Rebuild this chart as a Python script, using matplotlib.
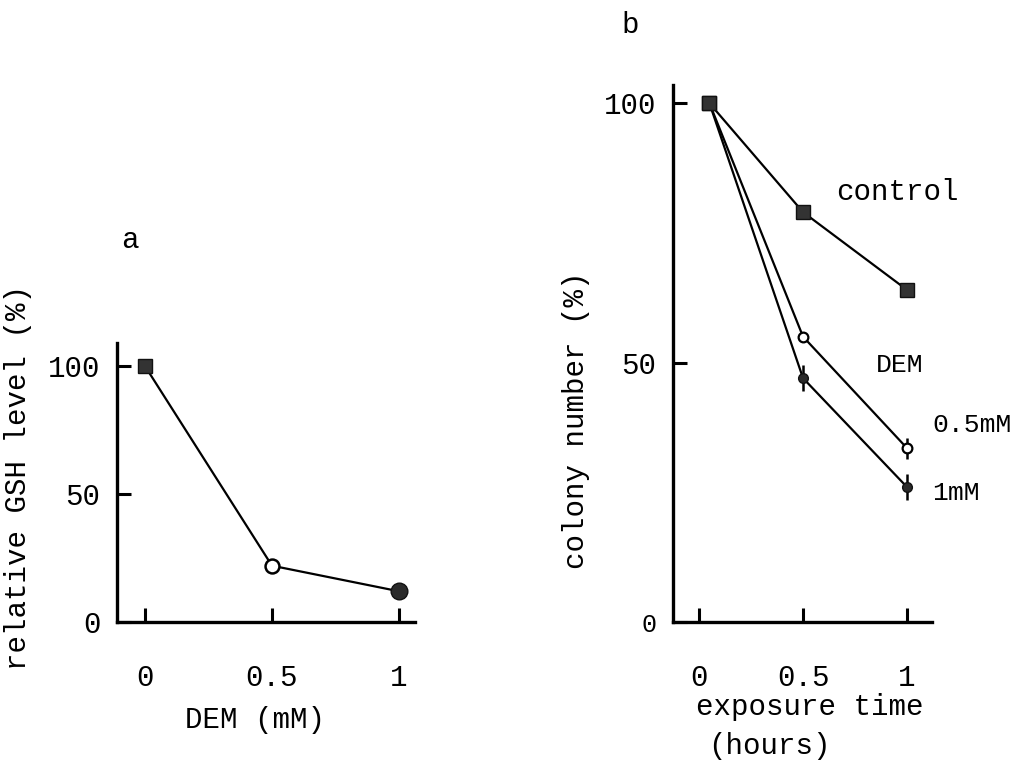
import matplotlib
matplotlib.use("Agg")
import matplotlib.pyplot as plt

# Panel a: GSH level after DEM treatment
dem_conc = [0.0, 0.5, 1.0]
gsh_level = [100, 22, 12]
a_xticks = [0, 0.5, 1]
a_xticklabels = ["0", "0.5", "1"]
a_yticks = [0, 50, 100]
a_yticklabels = ["0", "50", "100"]

# Panel b: colony survival over exposure time
exposure_h = [0.05, 0.5, 1.0]
control = [100, 79, 64]
dem_05 = [100, 55, 33.5]
dem_05_err = [0, 0, 2]
dem_1 = [100, 47, 26]
dem_1_err = [0, 2.5, 2.5]
b_xticks = [0, 0.5, 1]
b_xticklabels = ["0", "0.5", "1"]
b_yticks = [0, 50, 100]
b_yticklabels = ["0", "50", "100"]

FONT = "Liberation Mono"
plt.rcParams["font.family"] = [FONT, "DejaVu Sans Mono"]

fig = plt.figure(figsize=(10.28, 7.66), dpi=100)
W, H = 1028, 766


def px_axes(l, t, r, b):
    return fig.add_axes([l / W, 1 - b / H, (r - l) / W, (b - t) / H])


def style(ax):
    for s in ("top", "right"):
        ax.spines[s].set_visible(False)
    for s in ("left", "bottom"):
        ax.spines[s].set_linewidth(2.4)
    ax.tick_params(direction="in", length=10, width=2.2, labelsize=21)
    ax.tick_params(axis="x", pad=30)
    ax.tick_params(axis="y", pad=12)


# ---- panel a ----
axa = px_axes(117, 343, 415, 622)
axa.set_xlim(-0.11, 1.063)
axa.set_ylim(0, 109)
axa.plot(dem_conc, gsh_level, color="black", lw=1.6, zorder=2)
axa.plot(dem_conc[0], gsh_level[0], "s", ms=10, mfc="#333333", mec="#111111", zorder=3)
axa.plot(dem_conc[1], gsh_level[1], "o", ms=10, mfc="white", mec="black", mew=1.8, zorder=3)
axa.plot(dem_conc[2], gsh_level[2], "o", ms=12, mfc="#2a2a2a", mec="#111111", zorder=3)
axa.set_xticks(a_xticks, a_xticklabels)
axa.set_yticks(a_yticks, a_yticklabels)
style(axa)

# ---- panel b ----
axb = px_axes(673, 85, 932, 622)
axb.set_xlim(-0.125, 1.12)
axb.set_ylim(0, 103.5)
axb.plot(exposure_h, control, color="black", lw=1.6, marker="s", ms=10.5,
         mfc="#333333", mec="#111111", zorder=3)
axb.errorbar(exposure_h, dem_05, yerr=dem_05_err, color="black", lw=1.6,
             elinewidth=1.8, capsize=0, marker="o", ms=7, mfc="white",
             mec="black", mew=1.6, zorder=2)
axb.errorbar(exposure_h, dem_1, yerr=dem_1_err, color="black", lw=1.6,
             elinewidth=1.8, capsize=0, marker="o", ms=7, mfc="#2a2a2a",
             mec="#111111", zorder=2)
axb.plot(exposure_h[0], control[0], "s", ms=10.5, mfc="#333333", mec="#111111", zorder=4)
axb.set_xticks(b_xticks, b_xticklabels)
axb.set_yticks(b_yticks, b_yticklabels)
style(axb)
axb.get_yticklabels()[0].set_fontsize(18)

# ---- axis titles and annotations ----
def ftext(x, y, s, **kw):
    kw.setdefault("fontsize", 21)
    fig.text(x / W, 1 - y / H, s, ha=kw.pop("ha", "center"), va=kw.pop("va", "center"), **kw)


ftext(18, 478, "relative GSH level (%)", rotation=90)
ftext(255, 720, "DEM (mM)")
ftext(130, 240, "a")

ftext(576, 420, "colony number (%)", rotation=90)
ftext(810, 707, "exposure time")
ftext(769, 746, "(hours)")
ftext(630, 25, "b")

ftext(897, 192, "control")
ftext(900, 365, "DEM", fontsize=19)
ftext(932, 425, "0.5mM", ha="left", fontsize=19)
ftext(932, 493, "1mM", ha="left", fontsize=19)

fig.savefig("out.png", dpi=100, facecolor="white")
